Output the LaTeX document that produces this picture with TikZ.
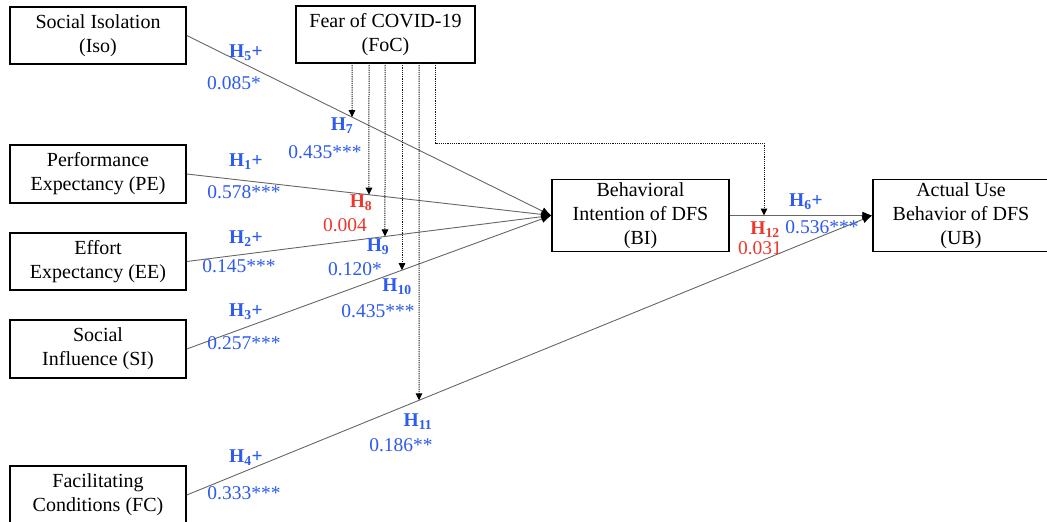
\documentclass[tikz,border=0pt]{standalone}
\usepackage{fontspec}
\setmainfont{Liberation Serif}
\usetikzlibrary{arrows.meta,calc}
\definecolor{hblue}{RGB}{45,90,240}
\definecolor{hred}{RGB}{235,55,45}
\begin{document}
\begin{tikzpicture}[x=1pt,y=-1pt,
  box/.style={draw,line width=1.5pt,minimum width=176pt,align=center,inner sep=0pt,font=\fontsize{20}{24}\selectfont},
  relpath/.style={draw=black!60,line width=0.9pt,-{Latex[length=10pt,width=8pt,color=black]}},
  modpath/.style={draw=black!90,line width=1pt,dash pattern=on 1.2pt off 1pt,-{Triangle[length=7pt,width=6.5pt,color=black]}},
  lab/.style={font=\fontsize{19.5}{22}\selectfont,inner sep=0pt},
  hb/.style={lab,text=hblue}, hr/.style={lab,text=hred}]
\useasboundingbox (0,0) rectangle (1047,522);
% boxes
\node[box,minimum height=57pt] (Iso) at (98,35.5) {Social Isolation\\(Iso)};
\node[box,minimum width=179pt,minimum height=57pt] (FoC) at (385.5,34.5) {Fear of COVID-19\\(FoC)};
\node[box,minimum height=58pt] (PE) at (98,174) {Performance\\Expectancy (PE)};
\node[box,minimum height=57pt] (EE) at (98,261.5) {Effort\\Expectancy (EE)};
\node[box,minimum height=58pt] (SI) at (98,349) {Social\\Influence (SI)};
\node[box,minimum height=58pt] (FC) at (98,495) {Facilitating\\Conditions (FC)};
\node[box,minimum width=177pt,minimum height=72pt] (BI) at (640.5,215.5) {Behavioral\\Intention of DFS\\(BI)};
\node[box,minimum height=72pt] (UB) at (961,215.5) {Actual Use\\Behavior of DFS\\(UB)};
% direct paths
\draw[relpath] (Iso.east) -- (BI.west);
\draw[relpath] (PE.east) -- (BI.west);
\draw[relpath] (EE.east) -- (BI.west);
\draw[relpath] (SI.east) -- (BI.west);
\draw[relpath] (FC.east) -- (UB.west);
\draw[relpath] (BI.east) -- (UB.west);
% moderation coordinates
\coordinate (t7) at (352,63);  \coordinate (b7) at (352,500);
\coordinate (t8) at (369,63);  \coordinate (b8) at (369,500);
\coordinate (t9) at (385,63);  \coordinate (b9) at (385,500);
\coordinate (t10) at (402,63); \coordinate (b10) at (402,500);
\coordinate (t11) at (419,63); \coordinate (b11) at (419,500);
\coordinate (t12) at (435,63);
\coordinate (k1) at (435,143);
\coordinate (k2) at (764,143);
\draw[modpath] (t7) -- (intersection of Iso.east--BI.west and t7--b7);
\draw[modpath] (t8) -- (intersection of PE.east--BI.west and t8--b8);
\draw[modpath] (t9) -- (intersection of EE.east--BI.west and t9--b9);
\draw[modpath] (t10) -- (intersection of SI.east--BI.west and t10--b10);
\draw[modpath] (t11) -- (intersection of FC.east--UB.west and t11--b11);
\draw[modpath] (t12) -- (k1) -- (k2) -- (k2 |- BI.east);
% labels
\node[hb] (l5) at (246,53) {\textbf{H\textsubscript{5}+}};
\node[hb] (v5) at (234,83) {0.085*};
\node[hb] (l7) at (342,126) {\textbf{H\textsubscript{7}}};
\node[hb] (v7) at (325,152) {0.435***};
\node[hb] (l1) at (246,162) {\textbf{H\textsubscript{1}+}};
\node[hb] (v1) at (244,192) {0.578***};
\node[hr] (l8) at (361,203) {\textbf{H\textsubscript{8}}};
\node[hr] (v8) at (345,225) {0.004};
\node[hb] (l2) at (246,239) {\textbf{H\textsubscript{2}+}};
\node[hb] (v2) at (239,266) {0.145***};
\node[hb] (l9) at (378,247) {\textbf{H\textsubscript{9}}};
\node[hb] (v9) at (355,269) {0.120*};
\node[hb] (l10) at (397,287) {\textbf{H\textsubscript{10}}};
\node[hb] (v10) at (378,311) {0.435***};
\node[hb] (l3) at (246,312) {\textbf{H\textsubscript{3}+}};
\node[hb] (v3) at (244,343) {0.257***};
\node[hb] (l11) at (418,422) {\textbf{H\textsubscript{11}}};
\node[hb] (v11) at (401,445) {0.186**};
\node[hb] (l4) at (246,458) {\textbf{H\textsubscript{4}+}};
\node[hb] (v4) at (244,493) {0.333***};
\node[hb] (l6) at (806,202) {\textbf{H\textsubscript{6}+}};
\node[hb] (v6) at (822,227) {0.536***};
\node[hr] (l12) at (765,230) {\textbf{H\textsubscript{12}}};
\node[hr] (v12) at (760,248) {0.031};
\end{tikzpicture}
\end{document}
